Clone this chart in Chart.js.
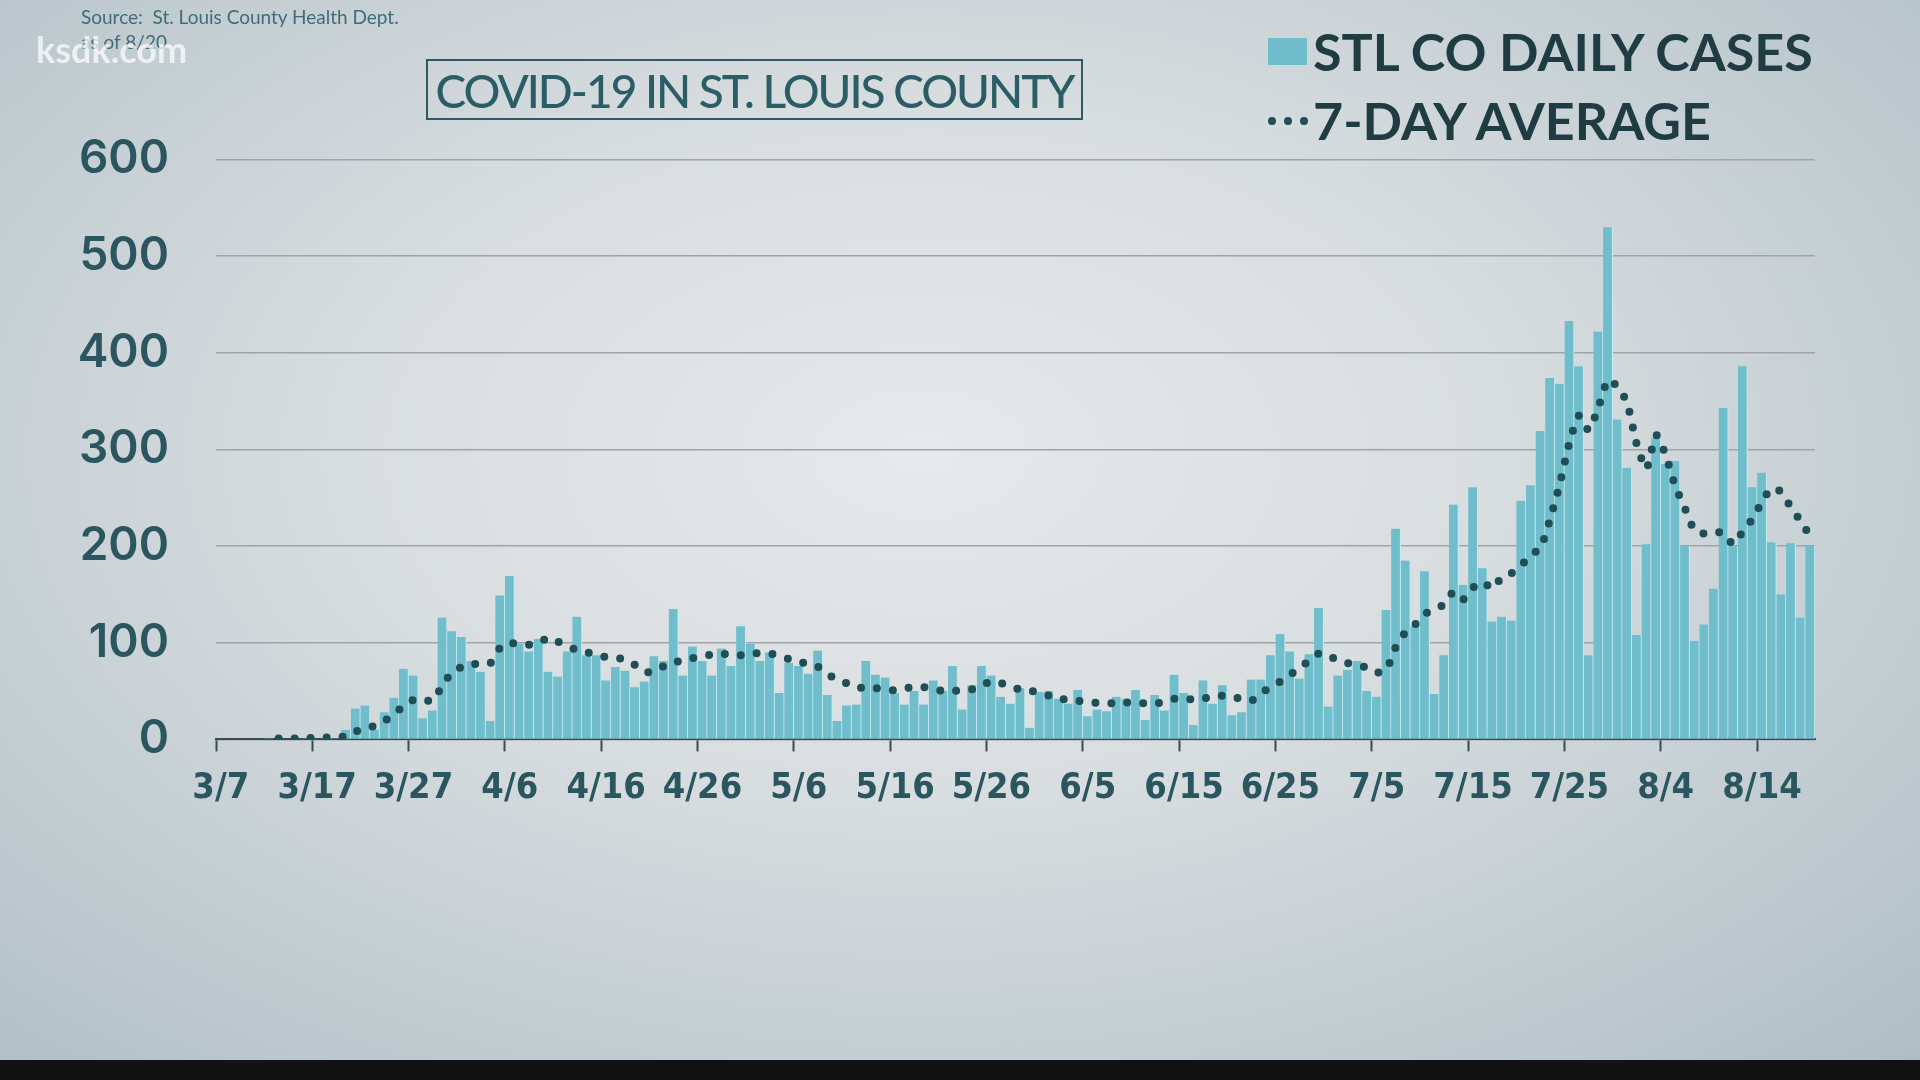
<!DOCTYPE html>
<html>
<head>
<meta charset="utf-8">
<script src="https://cdn.jsdelivr.net/npm/chart.js@4"></script>
<style>
    html, body { margin: 0; padding: 0; width: 1920px; height: 1080px; overflow: hidden; }
    body {
        position: relative;
        background: radial-gradient(ellipse 75% 80% at 48% 42%, #e7e9ea 0%, #d8dddf 40%, #b9c6cc 85%, #aebdc4 100%);
        font-family: Lato, sans-serif;
    }
    #chart { position: absolute; left: 0; top: 0; }
    .bottomBar { position: absolute; left: 0; bottom: 0; width: 1920px; height: 20px; background: #121212; }
    .source { position: absolute; left: 81px; top: 4px; font-size: 19px; color: #3f6c78; line-height: 25px; }
    .watermark { position: absolute; left: 36px; top: 27px; font-size: 36px; font-weight: bold; color: rgba(255,255,255,0.72); }
    .title {
        position: absolute; left: 426px; top: 59px; width: 653px; height: 57px;
        border: 2.5px solid #2c5b63; color: #2b5d66; white-space: nowrap;
        font-size: 46px; font-weight: 500; letter-spacing: -2px; text-align: center; line-height: 60px;
    }
    .legend { position: absolute; left: 1268px; top: 17px; color: #1f3c42; font-weight: bold; font-size: 52px; }
    .legend div { height: 69px; line-height: 69px; display: flex; align-items: center; }
    .swatch { width: 39px; height: 27px; background: #70bdcc; margin-right: 6px; }
    .dots { width: 40px; margin-right: 5px; display: flex; justify-content: space-between; }
    .dots span { width: 8px; height: 8px; border-radius: 50%; background: #1f4e56; }
</style>
</head>
<body>
<canvas id="chart" width="1920" height="1080"></canvas>
<div class="source">Source:&nbsp; St. Louis County Health Dept.<br>as of 8/20</div>
<div class="watermark">ksdk.com</div>
<div class="title">COVID-19 IN ST. LOUIS COUNTY</div>
<div class="legend">
    <div><span class="swatch"></span>STL CO DAILY CASES</div>
    <div><span class="dots"><span></span><span></span><span></span></span>7-DAY AVERAGE</div>
</div>
<div class="bottomBar"></div>
<script>
// daily new cases, 3/7 .. 8/19
const dailyCases = [
    0, 0, 0, 0, 0, 1, 0, 0, 0, 1,
    0, 2, 1, 10, 32, 35, 10, 28, 43, 73,
    66, 22, 30, 126, 112, 106, 81, 70, 19, 149,
    169, 99, 91, 104, 70, 65, 91, 127, 87, 87,
    61, 75, 71, 54, 60, 86, 81, 135, 66, 96,
    81, 66, 94, 76, 117, 99, 81, 90, 48, 79,
    76, 68, 92, 46, 19, 35, 36, 81, 67, 64,
    48, 36, 50, 36, 61, 50, 76, 31, 56, 76,
    66, 44, 37, 53, 12, 49, 50, 42, 37, 51,
    24, 31, 29, 44, 42, 51, 20, 46, 30, 67,
    48, 15, 61, 37, 56, 25, 28, 62, 62, 87,
    109, 91, 63, 88, 136, 34, 66, 72, 81, 50,
    44, 134, 218, 185, 117, 174, 47, 87, 243, 160,
    261, 177, 122, 127, 123, 247, 263, 319, 374, 368,
    433, 386, 87, 422, 530, 331, 281, 108, 202, 312,
    285, 288, 200, 102, 119, 156, 343, 200, 386, 261,
    276, 204, 150, 203, 126, 200
];

// 7-day average as drawn (starts on 3/13)
const sevenDayAvg = [
    null, null, null, null, null, null, 1, 1, 1, 1.5,
    1.5, 2, 2.5, 3, 8, 12, 14, 19, 27, 34,
    41, 41, 40, 56, 69, 75, 78, 78, 79, 95,
    100, 98, 98, 100, 105, 101, 97, 92, 90, 88,
    85, 84, 83, 77, 70, 70, 76, 80, 81, 84,
    86, 88, 89, 87, 87, 89, 89, 89, 86, 83,
    81, 77, 75, 68, 61, 58, 54, 53, 53, 51,
    51, 53, 54, 54, 52, 50, 50, 51, 52, 56,
    60, 58, 56, 51, 50, 49, 45, 42, 41, 40,
    38, 38, 38, 37, 38, 39, 37, 37, 39, 42,
    43, 41, 42, 45, 45, 44, 42, 40, 48, 54,
    60, 67, 73, 82, 89, 86, 82, 79, 77, 74,
    69, 72, 96, 111, 119, 130, 134, 140, 153, 145,
    157, 163, 156, 168, 172, 180, 191, 198, 228, 264,
    307, 335, 320, 343, 372, 365, 348, 305, 280, 315,
    294, 262, 239, 216, 213, 214, 214, 202, 215, 228,
    246, 260, 256, 240, 226, 210
];

const yTicks = [0, 100, 200, 300, 400, 500, 600];
const labelEvery = 10;

// one category per day starting 3/7
const dayLabels = [];
const start = new Date(2020, 2, 7);
for (let i = 0; i < dailyCases.length; i++) {
    const d = new Date(start.getFullYear(), start.getMonth(), start.getDate() + i);
    dayLabels.push((d.getMonth() + 1) + '/' + d.getDate());
}

const textColor = '#2b5660';

new Chart(document.getElementById('chart').getContext('2d'), {
    data: {
        labels: dayLabels,
        datasets: [
            {
                type: 'line',
                label: '7-DAY AVERAGE',
                data: sevenDayAvg,
                borderColor: '#1f4e56',
                borderWidth: 8,
                borderDash: [0, 16],
                borderCapStyle: 'round',
                pointRadius: 0,
                tension: 0.2,
                fill: false,
                order: 0
            },
            {
                type: 'bar',
                label: 'STL CO DAILY CASES',
                data: dailyCases,
                backgroundColor: '#70bdcc',
                borderColor: '#c3e9ef',
                borderWidth: { top: 0, right: 1.2, bottom: 0, left: 0 },
                borderSkipped: 'start',
                barPercentage: 1,
                categoryPercentage: 1,
                order: 1
            }
        ]
    },
    options: {
        responsive: false,
        animation: false,
        layout: { padding: { top: 159.5, right: 105, bottom: 260.6, left: 0 } },
        plugins: { legend: { display: false }, tooltip: { enabled: false } },
        scales: {
            x: {
                offset: true,
                grid: {
                    offset: true,
                    drawOnChartArea: false,
                    tickLength: 12,
                    tickWidth: 2,
                    tickColor: c => (c.index % labelEvery === 0 ? '#3b4b51' : 'rgba(0,0,0,0)')
                },
                border: { display: true, color: '#3b4b51', width: 2 },
                ticks: {
                    autoSkip: false,
                    maxRotation: 0,
                    padding: 16,
                    color: textColor,
                    font: { family: '"DejaVu Sans Condensed", sans-serif', size: 36, weight: 'bold' },
                    callback: (v, i) => (i % labelEvery === 0 ? dayLabels[i] : '')
                },
                afterFit: s => { s.height = 80; }
            },
            y: {
                min: yTicks[0],
                max: yTicks[yTicks.length - 1],
                border: { display: false },
                grid: { color: '#9ea4a7', lineWidth: 1.5, drawTicks: false },
                ticks: {
                    stepSize: 100,
                    padding: 47,
                    color: textColor,
                    font: { family: 'Inter, sans-serif', size: 46, weight: '600' }
                },
                afterFit: s => { s.width = 216; }
            }
        }
    }
});
</script>
</body>
</html>
